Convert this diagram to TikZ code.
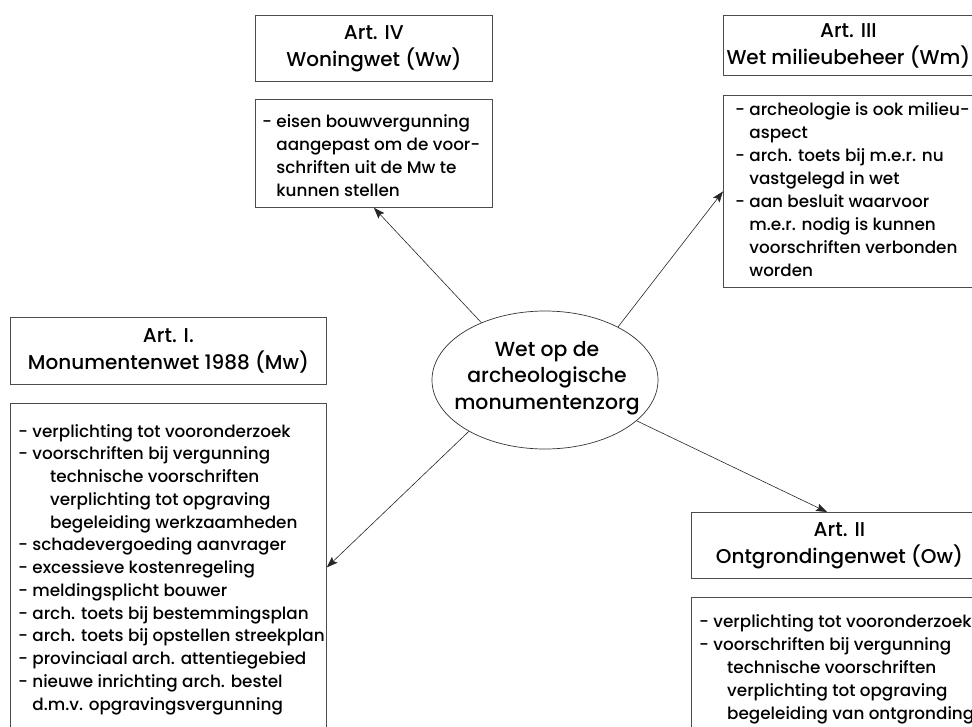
\documentclass[tikz,border=0pt]{standalone}
\usepackage{fontspec}
\setmainfont{Poppins}[UprightFont={* Medium}]
\usetikzlibrary{arrows.meta,shapes.geometric}
\begin{document}
\begin{tikzpicture}[x=1pt,y=-1pt,
  frame/.style={draw=black!70, line width=0.8pt, inner sep=0pt, anchor=north west},
  titlebox/.style={frame, align=center, font=\fontsize{20}{27}\selectfont},
  listbox/.style={frame},
  listtext/.style={anchor=north west, align=left, inner sep=0pt, font=\fontsize{16.8}{23}\selectfont},
  hubtext/.style={align=center, inner sep=0pt, font=\fontsize{20.4}{26.5}\selectfont},
  arr/.style={draw=black!85, line width=0.6pt, -{Stealth[length=11pt,width=8pt,inset=2pt]}}
]
\useasboundingbox (0,0) rectangle (972,726);
\clip (0,0) rectangle (972,726);

% central law
\node[draw=black!80, line width=0.7pt, ellipse, minimum width=226pt, minimum height=138pt, inner sep=0pt] (hub) at (545,380) {};
\node[hubtext] (hubt) at (547,378) {Wet op de\\archeologische\\monumentenzorg};

% Art. IV
\node[titlebox, minimum width=237pt, minimum height=66pt] (t4) at (255,15) {Art. IV\\Woningwet (Ww)};
\node[listbox, minimum width=237pt, minimum height=108pt] (b4) at (255,99) {};
\node[listtext] (l4) at (262,110.9) {\strut- eisen bouwvergunning\\
\phantom{- }aangepast om de voor-\\
\phantom{- }schriften uit de Mw te\\
\phantom{- }kunnen stellen};

% Art. III (lines padded on the right so the text sits a little left of centre)
\node[titlebox, minimum width=258pt, minimum height=60pt] (t3) at (723,15) {\mbox{Art. III\kern8pt}\\\mbox{Wet milieubeheer (Wm)\kern8pt}};
\node[listbox, minimum width=258pt, minimum height=192pt] (b3) at (723,95) {};
\node[listtext, font=\fontsize{16.8}{23.1}\selectfont] (l3) at (735,98.9) {\strut- archeologie is ook milieu-\\
\phantom{- }aspect\\
- arch. toets bij m.e.r. nu\\
\phantom{- }vastgelegd in wet\\
- aan besluit waarvoor\\
\phantom{- }m.e.r. nodig is kunnen\\
\phantom{- }voorschriften verbonden\\
\phantom{- }worden};

% Art. I
\node[titlebox, minimum width=316pt, minimum height=67pt] (t1) at (10,317) {Art. I.\\Monumentenwet 1988 (Mw)};
\node[listbox, minimum width=316pt, minimum height=328pt] (b1) at (10,403) {};
\node[listtext, font=\fontsize{16.8}{22.75}\selectfont] (l1) at (18,421.1) {\strut- verplichting tot vooronderzoek\\
- voorschriften bij vergunning\\
\hspace*{32pt}technische voorschriften\\
\hspace*{32pt}verplichting tot opgraving\\
\hspace*{32pt}begeleiding werkzaamheden\\
- schadevergoeding aanvrager\\
- excessieve kostenregeling\\
- meldingsplicht bouwer\\
- arch. toets bij bestemmingsplan\\
- arch. toets bij opstellen streekplan\\
- provinciaal arch. attentiegebied\\
- nieuwe inrichting arch. bestel\\
\phantom{- }d.m.v. opgravingsvergunning};

% Art. II
\node[titlebox, minimum width=296pt, minimum height=66pt] (t2) at (691,512) {Art. II\\Ontgrondingenwet (Ow)};
\node[listbox, minimum width=296pt, minimum height=150pt] (b2) at (691,597) {};
\node[listtext] (l2) at (699,610.9) {\strut- verplichting tot vooronderzoek\\
- voorschriften bij vergunning\\
\hspace*{28pt}technische voorschriften\\
\hspace*{28pt}verplichting tot opgraving\\
\hspace*{28pt}begeleiding van ontgronding};

% connectors
\draw[arr] (hub.138.8) -- (b4.south);
\draw[arr] (hub.36) -- (b3.west);
\draw[arr] (hub.214.3) -- (b1.east);
\draw[arr] (hub.336.6) -- ([xshift=136pt]t2.north west);
\end{tikzpicture}
\end{document}
